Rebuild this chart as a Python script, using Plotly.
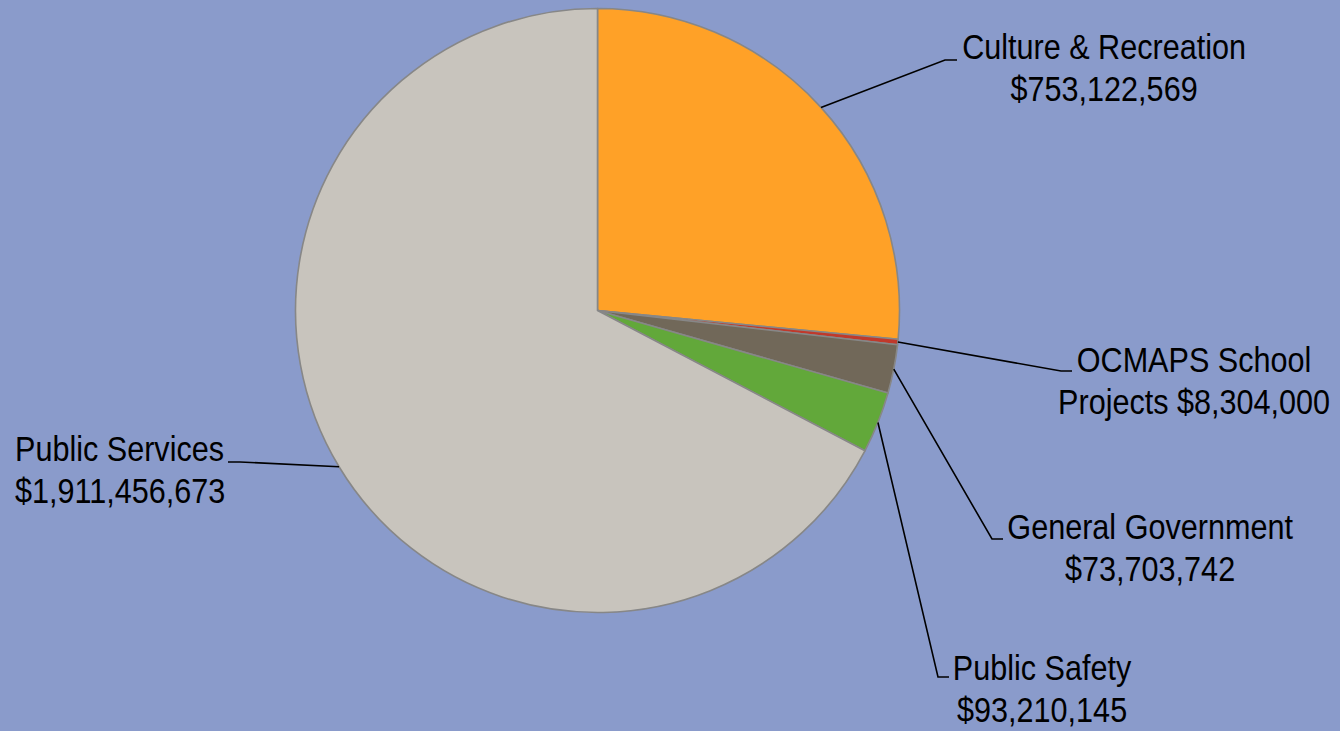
import math
import plotly.graph_objects as go

# ---- data ----
categories = ["Culture & Recreation", "OCMAPS School Projects", "General Government",
              "Public Safety", "Public Services"]
values = [753122569, 8304000, 73703742, 93210145, 1911456673]
name_lines = ["Culture & Recreation", "OCMAPS School", "General Government",
              "Public Safety", "Public Services"]
value_prefix = ["", "Projects ", "", "", ""]

colors = ["#FFA127", "#C0392B", "#716859", "#62A83A", "#C8C4BD"]

# ---- layout constants (pixels) ----
W, H = 1340, 731
CX, CY, R = 597.5, 310.5, 302.0
BG = "#8A9BCB"
FONT = "Liberation Sans, Arial, sans-serif"
FS = 36
LINE_GAP = 42
NARROW = 0.85  # horizontal condensing to mimic a narrow face

# label layout: (elbow_x, elbow_y, text_end_x, text_x, anchor, baseline1)
label_layout = [
    (945, 60, 957, 1104, "center", 59),
    (1061, 371, 1072, 1194, "center", 372),
    (992, 539, 1003, 1150, "center", 539),
    (938, 677, 949, 1042, "center", 680),
    (240, 462, 228, 13, "left", 461),
]


def px(x):
    return x / W


def py(y):
    return 1 - y / H


fig = go.Figure()
fig.add_trace(go.Pie(
    labels=categories,
    values=values,
    sort=False,
    direction="clockwise",
    rotation=0,
    marker=dict(colors=colors, line=dict(color="#878787", width=1.6)),
    textinfo="none",
    hoverinfo="label+value",
    showlegend=False,
    domain=dict(x=[px(CX - R), px(CX + R)], y=[py(CY + R), py(CY - R)]),
))

total = sum(values)
shapes = []
annotations = []
cum = 0.0
for i, v in enumerate(values):
    mid = (cum + v / 2) / total * 2 * math.pi
    cum += v
    ax = CX + R * math.sin(mid)
    ay = CY - R * math.cos(mid)
    ex, ey, tx, lx, anchor, b1 = label_layout[i]
    shapes.append(dict(
        type="path", xref="paper", yref="paper",
        path=f"M {px(ax)},{py(ay)} L {px(ex)},{py(ey)} L {px(tx)},{py(ey)}",
        line=dict(color="black", width=1.6),
    ))
    texts = [name_lines[i], f"{value_prefix[i]}${v:,}"]
    for j, t in enumerate(texts):
        base = b1 + j * LINE_GAP
        annotations.append(dict(
            text=t, xref="paper", yref="paper",
            x=px(lx), y=py(base - 0.35 * FS),
            xanchor=anchor, yanchor="middle", showarrow=False,
            align=anchor,
            font=dict(family=FONT, size=FS, color="black"),
        ))

fig.update_layout(
    width=W, height=H,
    margin=dict(l=0, r=0, t=0, b=0),
    paper_bgcolor=BG, plot_bgcolor=BG,
    shapes=shapes, annotations=annotations,
)

post = """
document.body.style.margin = '0';
document.body.style.background = '%s';
var gd = document.getElementById('{plot_id}');
function squeeze() {
  gd.querySelectorAll('g.annotation').forEach(function (g) {
    var idx = +g.getAttribute('data-index');
    var ann = (gd.layout.annotations || [])[idx] || {};
    var origin = ann.xanchor === 'left' ? 'left' : (ann.xanchor === 'right' ? 'right' : 'center');
    var t = g.querySelector('text.annotation-text');
    if (!t) return;
    t.style.transformBox = 'fill-box';
    t.style.transformOrigin = origin + ' center';
    t.style.transform = 'scaleX(%s)';
  });
}
squeeze();
gd.on('plotly_afterplot', squeeze);
""" % (BG, NARROW)

fig.write_html("out.html", post_script=post, config={"displayModeBar": False})
